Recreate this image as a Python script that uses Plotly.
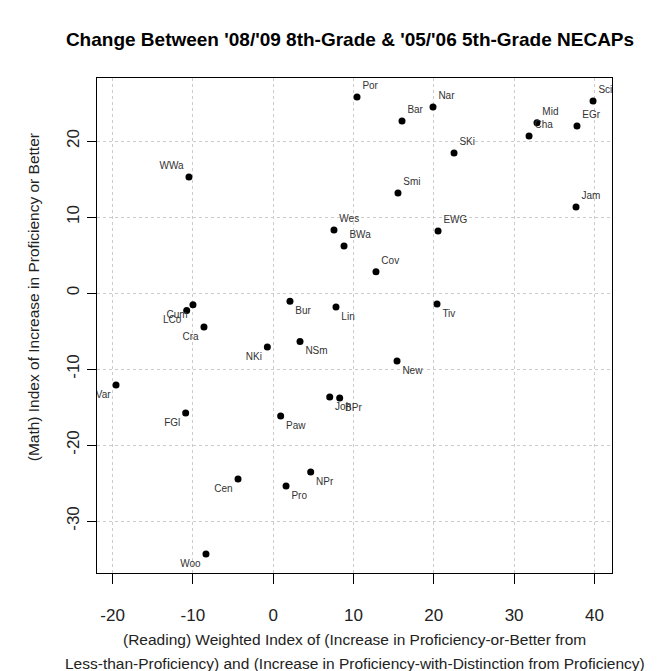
import plotly.graph_objects as go

labels = ["Por", "Bar", "Nar", "Mid", "Cha", "EGr", "Sci", "SKi", "Smi", "Jam",
          "EWG", "Cov", "Wes", "BWa", "WWa",
          "Cum", "LCo", "Cra", "NKi", "Var", "FGl", "Cen", "Woo",
          "Bur", "Lin", "NSm", "Paw", "Joh", "BPr", "NPr", "Pro", "Tiv", "New"]
reading = [10.44, 16.04, 19.90, 32.85, 31.86, 37.83, 39.83, 22.52, 15.54, 37.71,
           20.53, 12.80, 7.57, 8.82, -10.49,
           -9.99, -10.77, -8.62, -0.73, -19.57, -10.90, -4.38, -8.37,
           2.09, 7.82, 3.34, 0.93, 7.04, 8.28, 4.67, 1.60, 20.40, 15.42]
math = [25.79, 22.63, 24.47, 22.41, 20.66, 21.97, 25.26, 18.42, 13.16, 11.32,
        8.16, 2.80, 8.29, 6.18, 15.26,
        -1.54, -2.29, -4.47, -7.11, -12.11, -15.79, -24.47, -34.34,
        -1.10, -1.84, -6.37, -16.18, -13.68, -13.82, -23.55, -25.39, -1.45, -8.95]
label_pos = (["top right"] * 14 + ["top left"] + ["bottom left"] * 8 + ["bottom right"] * 10)

x_ticks = [-20, -10, 0, 10, 20, 30, 40]
y_ticks = [-30, -20, -10, 0, 10, 20]

title_text = "Change Between '08/'09 8th-Grade & '05/'06 5th-Grade NECAPs"
x_title_lines = ["(Reading) Weighted Index of (Increase in Proficiency-or-Better from",
                 "Less-than-Proficiency) and (Increase in Proficiency-with-Distinction from Proficiency)"]
y_title = "(Math) Index of Increase in Proficiency or Better"

FONT = "Liberation Sans, Arial, sans-serif"
TXT = "#222222"

fig = go.Figure()
fig.add_trace(go.Scatter(
    x=reading, y=math, mode="markers+text",
    text=labels, textposition=label_pos,
    textfont=dict(family=FONT, size=10, color="#333333"),
    marker=dict(color="black", size=7),
    cliponaxis=True, showlegend=False,
))

annotations = []
for i, line in enumerate(x_title_lines):
    annotations.append(dict(
        text=line, xref="paper", yref="paper", x=0.5, y=0,
        xanchor="center", yanchor="middle", yshift=-66 - 24 * i,
        showarrow=False, font=dict(family=FONT, size=15.5, color=TXT)))
annotations.append(dict(
    text=y_title, xref="paper", yref="paper", x=0, y=0.557,
    xanchor="center", yanchor="middle", xshift=-64, textangle=-90,
    showarrow=False, font=dict(family=FONT, size=15.5, color=TXT)))

fig.update_layout(
    width=664, height=663,
    margin=dict(l=89, r=60, t=70, b=98),
    paper_bgcolor="white", plot_bgcolor="white",
    title=dict(text="<b>" + title_text + "</b>",
               x=342 / 664, xanchor="center", y=1 - 31 / 663, yanchor="middle",
               font=dict(family=FONT, size=19, color="black")),
    font=dict(family=FONT, color="black"),
    annotations=annotations,
)
fig.update_xaxes(
    range=[-21.94, 42.19], tickvals=x_ticks, ticktext=[str(v) for v in x_ticks],
    showline=True, linecolor="black", linewidth=1, mirror=True,
    ticks="outside", ticklen=10, tickcolor="black", ticklabelstandoff=17,
    tickfont=dict(family=FONT, size=17, color=TXT),
    showgrid=True, gridcolor="#cccccc", griddash="dot", gridwidth=1,
    zeroline=False,
)
fig.update_yaxes(
    range=[-36.84, 28.29], tickvals=y_ticks, ticktext=[str(v) for v in y_ticks],
    showline=True, linecolor="black", linewidth=1, mirror=True,
    ticks="outside", ticklen=9, tickcolor="black", tickangle=-90, ticklabelstandoff=1,
    tickfont=dict(family=FONT, size=17, color=TXT),
    showgrid=True, gridcolor="#cccccc", griddash="dot", gridwidth=1,
    zeroline=False,
)

fig.write_html("out.html")
